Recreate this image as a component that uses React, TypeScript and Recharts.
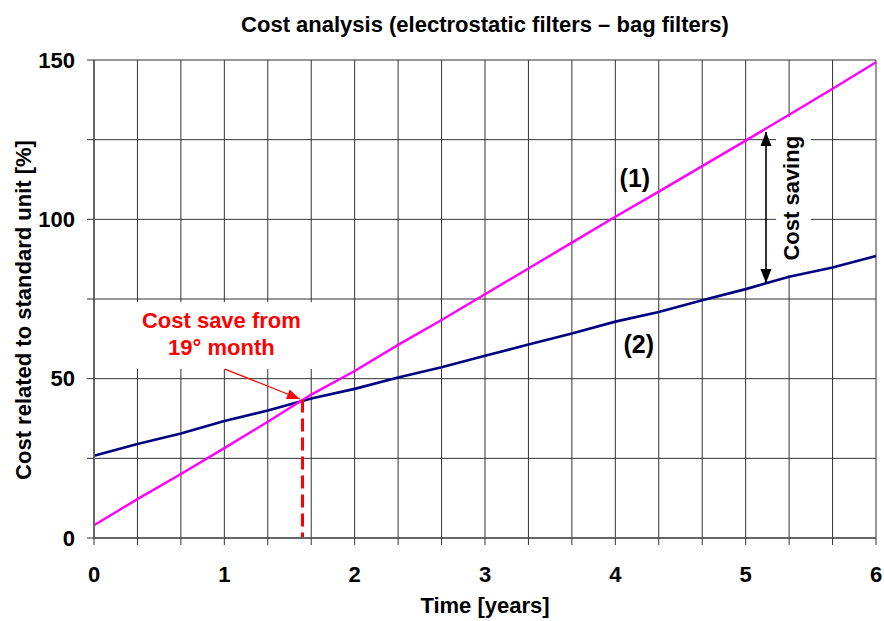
import { CartesianGrid, Line, LineChart, ReferenceArea, ReferenceDot, ReferenceLine, XAxis, YAxis } from "recharts";

// time axis, one point every 4 months
const years = [0, 1 / 3, 2 / 3, 1, 4 / 3, 5 / 3, 2, 7 / 3, 8 / 3, 3, 10 / 3, 11 / 3, 4, 13 / 3, 14 / 3, 5, 16 / 3, 17 / 3, 6];
// (1) magenta curve
const costLine1 = [4, 12.2, 20.1, 28.2, 36.5, 45.0, 52.4, 60.6, 68.4, 76.5, 84.6, 92.7, 100.8, 108.7, 116.7, 124.7, 132.8, 141.0, 149.3];
// (2) navy curve
const costLine2 = [25.8, 29.5, 32.8, 36.7, 40.0, 43.8, 46.8, 50.4, 53.6, 57.2, 60.7, 64.2, 67.9, 70.9, 74.6, 78.1, 82.0, 84.9, 88.5];

const xTicks = years;
const yTicks = [0, 25, 50, 75, 100, 125, 150];

const breakEvenYear = 1.6;
const breakEvenCost = 43.5;

const FONT = "'Liberation Sans', Arial, Helvetica, sans-serif";
const FS = 22;
const tickStyle = { fill: "#000", fontSize: FS, fontWeight: 700 };

const chartData = years.map((t, i) => ({ t, s1: costLine1[i], s2: costLine2[i] }));

const fmtX = (v: number) => (Math.abs(v - Math.round(v)) < 1e-6 ? String(Math.round(v)) : "");
const fmtY = (v: number) => (v % 50 === 0 ? String(v) : "");

// line with filled arrow heads, built from the coordinates recharts hands over
const arrowShape = (color: string, width: number, heads: "end" | "both", len: number, half: number) => (p: any) => {
  const { x1, y1, x2, y2 } = p;
  const dx = x2 - x1;
  const dy = y2 - y1;
  const d = Math.sqrt(dx * dx + dy * dy) || 1;
  const ux = dx / d;
  const uy = dy / d;
  const head = (tx: number, ty: number, sx: number, sy: number) => {
    const bx = tx - sx * len;
    const by = ty - sy * len;
    return `${tx},${ty} ${bx - sy * half},${by + sx * half} ${bx + sy * half},${by - sx * half}`;
  };
  return (
    <g>
      <line x1={x1} y1={y1} x2={x2} y2={y2} stroke={color} strokeWidth={width} />
      <polygon points={head(x2, y2, ux, uy)} fill={color} />
      {heads === "both" && <polygon points={head(x1, y1, -ux, -uy)} fill={color} />}
    </g>
  );
};

const textDot = (label: string) => (p: any) => (
  <text x={p.cx} y={p.cy} textAnchor="middle" dominantBaseline="central" fontSize={25} fontWeight={700} fill="#000">
    {label}
  </text>
);

export default function App() {
  return (
    <div style={{ position: "absolute", left: 0, top: 0, width: 884, height: 621, fontFamily: FONT, background: "#fff" }}>
      <div
        style={{
          position: "absolute",
          left: 94,
          width: 782,
          top: 14,
          textAlign: "center",
          fontSize: FS,
          lineHeight: "22px",
          fontWeight: 700,
          color: "#000",
        }}
      >
        Cost analysis (electrostatic filters – bag filters)
      </div>
      <LineChart width={884} height={621} data={chartData} margin={{ top: 60, right: 8, bottom: 0, left: 0 }}>
        <CartesianGrid stroke="#333" strokeWidth={1} />
        <XAxis
          type="number"
          dataKey="t"
          domain={[0, 6]}
          ticks={xTicks}
          interval={0}
          tickFormatter={fmtX}
          height={83}
          tickSize={7}
          tickMargin={21}
          tick={tickStyle}
          axisLine={{ stroke: "#666", strokeWidth: 2 }}
          tickLine={{ stroke: "#333" }}
          label={{ value: "Time [years]", position: "insideBottom", offset: 8, fill: "#000", fontSize: FS, fontWeight: 700 }}
        />
        <YAxis
          type="number"
          domain={[0, 150]}
          ticks={yTicks}
          interval={0}
          tickFormatter={fmtY}
          width={94}
          tickSize={7}
          tickMargin={12}
          tick={tickStyle}
          axisLine={{ stroke: "#666", strokeWidth: 2 }}
          tickLine={{ stroke: "#333" }}
          label={(p: any) => {
            const vb = p.viewBox;
            const cx = vb.x + 31;
            const cy = vb.y + vb.height / 2 + 11;
            return (
              <text
                x={cx}
                y={cy}
                transform={`rotate(-90, ${cx}, ${cy})`}
                textAnchor="middle"
                fontSize={FS}
                fontWeight={700}
                fill="#000"
              >
                Cost related to standard unit [%]
              </text>
            );
          }}
        />

        {/* white box behind the break-even note */}
        <ReferenceArea
          x1={0.12}
          x2={1.85}
          y1={53}
          y2={74}
          fill="#fff"
          fillOpacity={1}
          stroke="none"
          label={(p: any) => {
            const vb = p.viewBox;
            const cx = vb.x + vb.width / 2 - 1;
            return (
              <text textAnchor="middle" fontSize={FS} fontWeight={700} fill="#ff0000">
                <tspan x={cx} y={328}>Cost save from</tspan>
                <tspan x={cx} y={355}>19° month</tspan>
              </text>
            );
          }}
        />
        {/* white box behind the vertical "Cost saving" text */}
        <ReferenceArea
          x1={5.233}
          x2={5.5}
          y1={82.5}
          y2={132}
          fill="#fff"
          fillOpacity={1}
          stroke="none"
          label={(p: any) => {
            const vb = p.viewBox;
            const cx = vb.x + vb.width / 2 - 2;
            const cy = vb.y + vb.height / 2 + 2;
            return (
              <text
                x={cx}
                y={cy}
                transform={`rotate(-90, ${cx}, ${cy})`}
                textAnchor="middle"
                dominantBaseline="central"
                fontSize={FS}
                fontWeight={700}
                fill="#000"
              >
                Cost saving
              </text>
            );
          }}
        />

        <Line type="linear" dataKey="s2" stroke="#000080" strokeWidth={2.6} dot={false} activeDot={false} isAnimationActive={false} />
        <Line type="linear" dataKey="s1" stroke="#ff00ff" strokeWidth={2.4} dot={false} activeDot={false} isAnimationActive={false} />

        <ReferenceLine
          segment={[
            { x: breakEvenYear, y: breakEvenCost },
            { x: breakEvenYear, y: 0 },
          ]}
          stroke="#ff0000"
          strokeWidth={3}
          strokeDasharray="13 6"
        />
        <ReferenceLine
          segment={[
            { x: 1.005, y: 53 },
            { x: 1.58, y: 43.6 },
          ]}
          shape={arrowShape("#ff0000", 1.2, "end", 13, 5)}
        />
        <ReferenceLine
          segment={[
            { x: 5.156, y: 80.0 },
            { x: 5.156, y: 127.4 },
          ]}
          shape={arrowShape("#000", 1.6, "both", 14, 5.5)}
        />
        <ReferenceDot x={4.15} y={113} r={0} shape={textDot("(1)")} />
        <ReferenceDot x={4.18} y={61} r={0} shape={textDot("(2)")} />
      </LineChart>
    </div>
  );
}
